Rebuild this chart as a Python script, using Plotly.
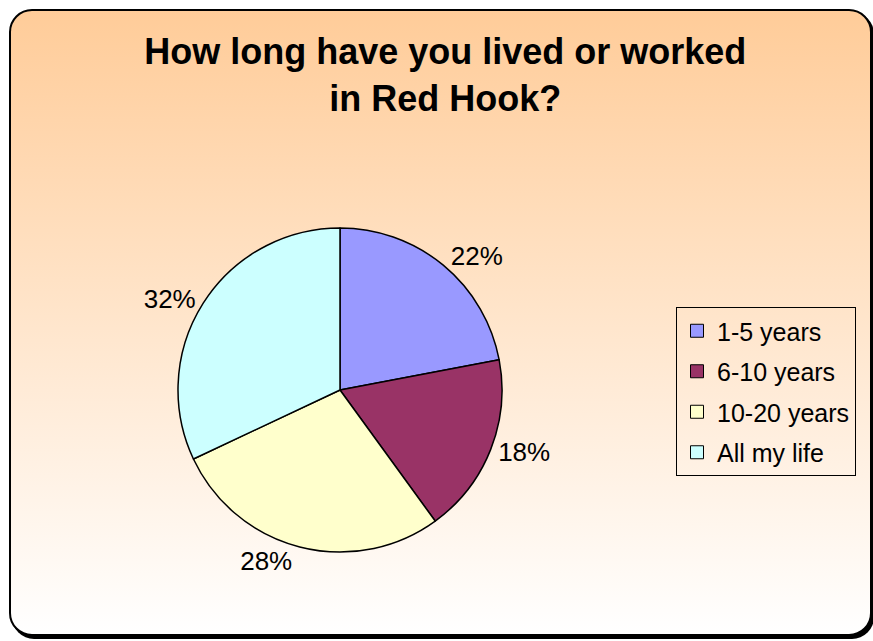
import base64
import plotly.graph_objects as go

# Survey answers: share of respondents (percent)
categories = ["1-5 years", "6-10 years", "10-20 years", "All my life"]
shares = [22, 18, 28, 32]
slice_colors = ["#9999FF", "#993366", "#FFFFCC", "#CCFFFF"]

W, H = 873, 641
FONT = "Liberation Sans, Arial, sans-serif"

# Rounded panel with a vertical peach-to-white gradient and a drop shadow
panel_svg = f"""<svg xmlns="http://www.w3.org/2000/svg" width="{W}" height="{H}" viewBox="0 0 {W} {H}">
<defs><linearGradient id="g" x1="0" y1="0" x2="0" y2="1">
<stop offset="0" stop-color="#FFCC99"/><stop offset="1" stop-color="#FFFFFF"/>
</linearGradient></defs>
<rect x="12" y="12" width="862" height="627" rx="22" fill="#000"/>
<rect x="10" y="10" width="861" height="625" rx="22" fill="url(#g)" stroke="#000" stroke-width="2"/>
</svg>"""
panel_uri = "data:image/svg+xml;base64," + base64.b64encode(panel_svg.encode()).decode()

fig = go.Figure()

fig.add_trace(go.Pie(
    labels=categories,
    values=shares,
    marker=dict(colors=slice_colors, line=dict(color="#000000", width=1.5)),
    sort=False,
    direction="clockwise",
    rotation=0,
    textinfo="percent",
    textposition="outside",
    outsidetextfont=dict(family=FONT, size=26, color="#000000"),
    domain=dict(x=[178 / W, 502 / W], y=[89 / H, 413 / H]),
    showlegend=False,
    hoverinfo="label+percent",
))

# Legend entries (square swatches), one group each for even row spacing
for name, col in zip(categories, slice_colors):
    fig.add_trace(go.Scatter(
        x=[None], y=[None], mode="markers", name=name, legendgroup=name,
        marker=dict(symbol="square", size=13, color=col,
                    line=dict(color="#000000", width=1)),
        showlegend=True,
    ))

fig.update_layout(
    width=W, height=H,
    margin=dict(l=0, r=0, t=0, b=0),
    paper_bgcolor="#FFFFFF",
    plot_bgcolor="rgba(0,0,0,0)",
    xaxis=dict(visible=False, range=[0, 1]),
    yaxis=dict(visible=False, range=[0, 1]),
    images=[dict(source=panel_uri, xref="paper", yref="paper", x=0, y=1,
                 sizex=1, sizey=1, xanchor="left", yanchor="top",
                 sizing="stretch", layer="below")],
    title=dict(
        text="How long have you lived or worked<br>in Red Hook?",
        font=dict(family=FONT, size=36, color="#000000", weight="bold"),
        x=0.51, xanchor="center", y=0.9, yanchor="top",
    ),
    legend=dict(
        x=676 / W, y=1 - 307 / H, xanchor="left", yanchor="top",
        bordercolor="#000000", borderwidth=1, bgcolor="rgba(0,0,0,0)",
        font=dict(family=FONT, size=25, color="#000000"),
        traceorder="grouped", tracegroupgap=5, itemwidth=30,
    ),
)

fig.write_html("out.html")
